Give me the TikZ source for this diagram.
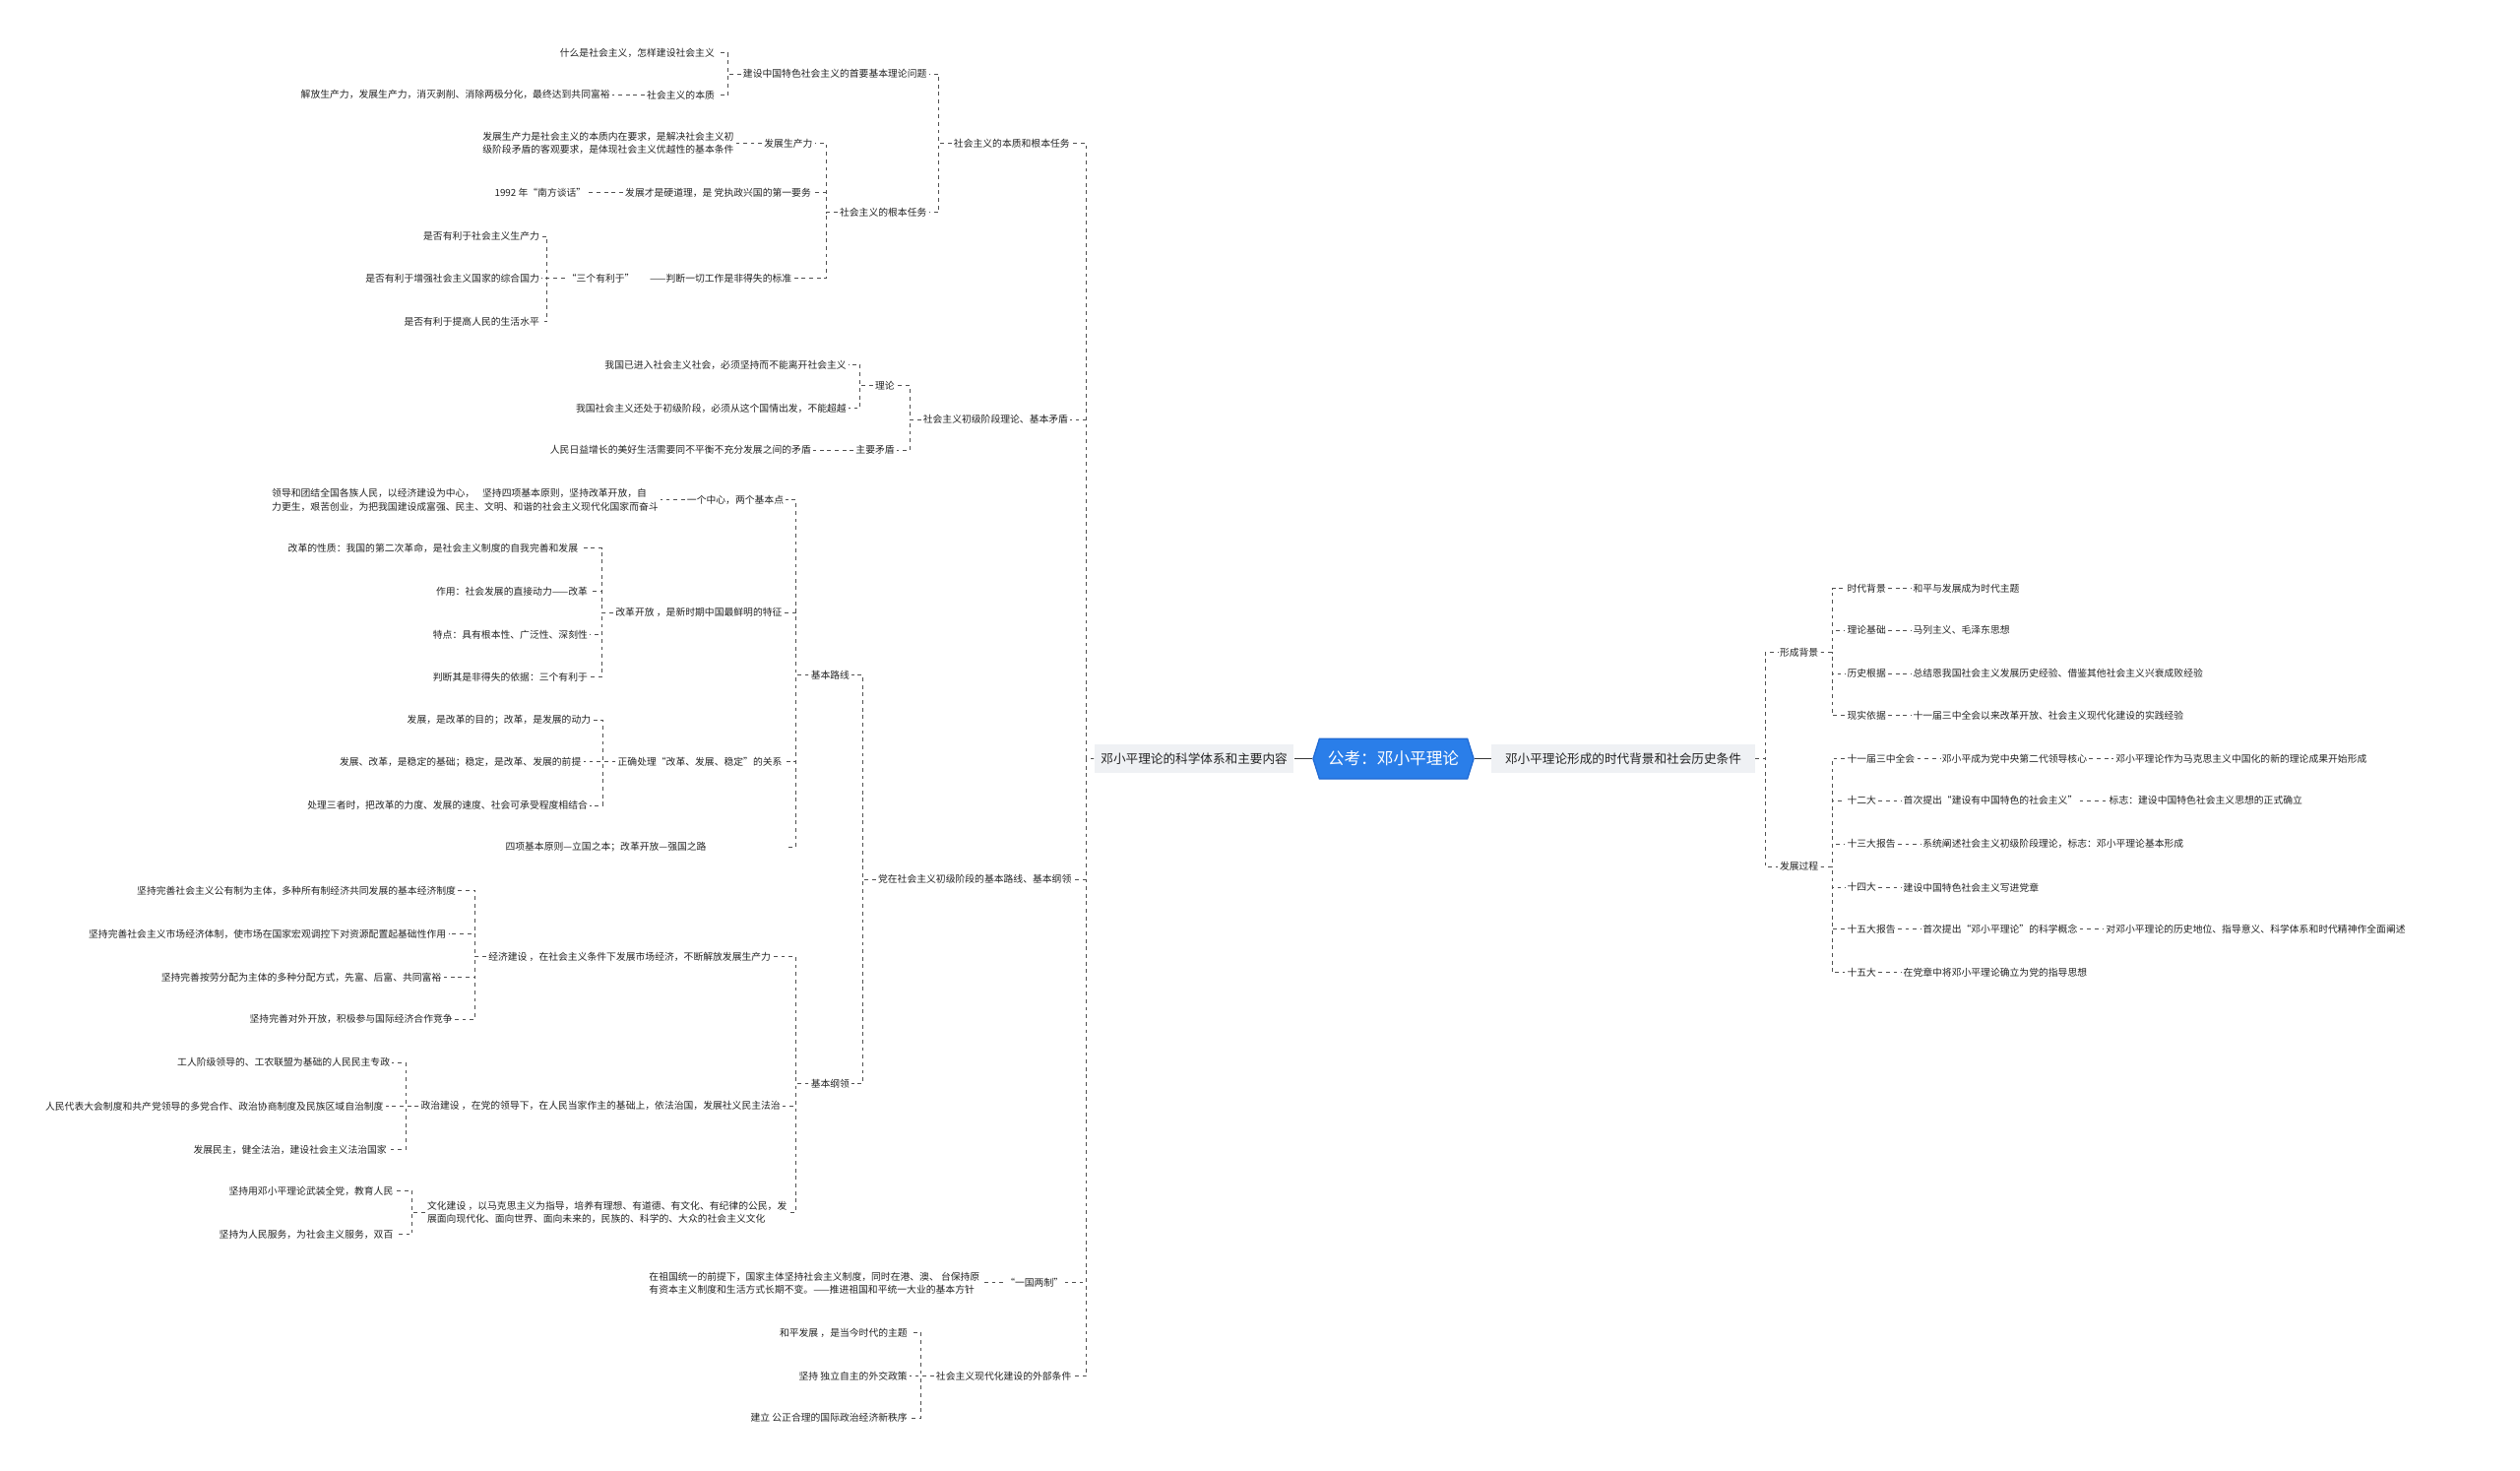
\documentclass[tikz,border=0pt]{standalone}
\usepackage{fontspec}
\setmainfont{Noto Sans CJK SC}
\usepackage{xcolor}
\usepackage{tikz}
\usetikzlibrary{shapes.symbols}
\definecolor{rootblue}{RGB}{42, 126, 233}
\definecolor{rootedge}{RGB}{30, 104, 210}
\definecolor{boxgray}{RGB}{239, 241, 244}
\definecolor{linkgray}{RGB}{80, 80, 80}
\definecolor{inkgray}{RGB}{35, 35, 35}

\begin{document}
\begin{tikzpicture}[x=0.03cm, y=-0.03cm,
    rootnode/.style={shape=signal, signal to=west and east, signal pointer angle=145, fill=rootblue, draw=rootedge, line width=0.6pt, text=white, minimum width=3cm, minimum height=0.75cm, inner sep=1pt, font=\fontsize{8.7}{10}\selectfont},
    topicnode/.style={fill=boxgray, minimum height=0.54cm, inner sep=1pt, text=inkgray, font=\fontsize{6.6}{8}\selectfont},
    leafnode/.style={inner sep=1pt, text=inkgray, font=\fontsize{5.13}{6.9}\selectfont},
    leafl/.style={leafnode, anchor=east},
    leafr/.style={leafnode, anchor=west},
    notenode/.style={leafl, align=left},
    link/.style={draw=linkgray, line width=0.45pt, dash pattern=on 2pt off 2pt},
    trunk/.style={draw=linkgray!70!black, line width=0.9pt}
]
    \useasboundingbox (0,0) rectangle (1568,915);

    % Root and the two main topics
    \node[rootnode] (root) at (867,472) {公考：邓小平理论};
    \node[topicnode, minimum width=3.72cm] (sys) at (743,472) {邓小平理论的科学体系和主要内容};
    \node[topicnode, minimum width=4.92cm] (cond) at (1010,472) {邓小平理论形成的时代背景和社会历史条件};
    \draw[trunk] (root.west) -- (sys.east);
    \draw[trunk] (root.east) -- (cond.west);

    % Essence and fundamental task
    \node[leafl] (essence) at (667,89) {社会主义的本质和根本任务};
    \node[leafl] (firstq) at (578,46) {建设中国特色社会主义的首要基本理论问题};
    \node[leafl] (whatsoc) at (446,33) {什么是社会主义，怎样建设社会主义};
    \node[leafl] (socess) at (446,59) {社会主义的本质};
    \node[leafl] (socessx) at (381,59) {解放生产力，发展生产力，消灭剥削、消除两极分化，最终达到共同富裕};
    \node[leafl] (task) at (578,132) {社会主义的根本任务};
    \node[leafl] (prod) at (507,89) {发展生产力};
    \node[notenode] (prodx) at (458,89) {发展生产力是社会主义的本质内在要求，是解决社会主义初\\级阶段矛盾的客观要求，是体现社会主义优越性的基本条件};
    \node[leafl] (hard) at (506,120) {发展才是硬道理，是 党执政兴国的第一要务};
    \node[leafl] (hardx) at (366,120) {1992 年“南方谈话”};
    \node[leafl] (three) at (494,173) {“三个有利于”\hspace{1.6em}——判断一切工作是非得失的标准};
    \node[leafl] (three1) at (337,147) {是否有利于社会主义生产力};
    \node[leafl] (three2) at (337,173) {是否有利于增强社会主义国家的综合国力};
    \node[leafl] (three3) at (337,200) {是否有利于提高人民的生活水平};

    % Primary stage
    \node[leafl] (stage) at (666,261) {社会主义初级阶段理论、基本矛盾};
    \node[leafl] (theory) at (558,240) {理论};
    \node[leafl] (theory1) at (528,227) {我国已进入社会主义社会，必须坚持而不能离开社会主义};
    \node[leafl] (theory2) at (528,254) {我国社会主义还处于初级阶段，必须从这个国情出发，不能超越};
    \node[leafl] (contra) at (558,280) {主要矛盾};
    \node[leafl] (contrax) at (506,280) {人民日益增长的美好生活需要同不平衡不充分发展之间的矛盾};

    % Basic line
    \node[leafl] (line) at (668,547) {党在社会主义初级阶段的基本路线、基本纲领};
    \node[leafl] (bline) at (530,420) {基本路线};
    \node[leafl] (center) at (489,311) {一个中心，两个基本点};
    \node[notenode] (centerx) at (411,311) {领导和团结全国各族人民，以经济建设为中心，\hspace{0.8em}坚持四项基本原则，坚持改革开放，自\\力更生，艰苦创业，为把我国建设成富强、民主、文明、和谐的社会主义现代化国家而奋斗};
    \node[leafl] (reform) at (488,381) {改革开放 ，是新时期中国最鲜明的特征};
    \node[leafl] (reform1) at (361,341) {改革的性质：我国的第二次革命，是社会主义制度的自我完善和发展};
    \node[leafl] (reform2) at (367,368) {作用：社会发展的直接动力——改革};
    \node[leafl] (reform3) at (367,395) {特点：具有根本性、广泛性、深刻性};
    \node[leafl] (reform4) at (367,421) {判断其是非得失的依据：三个有利于};
    \node[leafl] (relate) at (488,474) {正确处理“改革、发展、稳定”的关系};
    \node[leafl] (relate1) at (369,448) {发展，是改革的目的；改革，是发展的动力};
    \node[leafl] (relate2) at (363,474) {发展、改革，是稳定的基础；稳定，是改革、发展的前提};
    \node[leafl] (relate3) at (367,501) {处理三者时，把改革的力度、发展的速度、社会可承受程度相结合};
    \node[leafnode, minimum width=6.72cm] (princ) at (377,527) {四项基本原则—立国之本；改革开放—强国之路};

    % Basic program
    \node[leafl] (bprog) at (530,674) {基本纲领};
    \node[leafl] (econ) at (481,595) {经济建设 ，在社会主义条件下发展市场经济，不断解放发展生产力};
    \node[leafl] (econ1) at (285,554) {坚持完善社会主义公有制为主体，多种所有制经济共同发展的基本经济制度};
    \node[leafl] (econ2) at (279,581) {坚持完善社会主义市场经济体制，使市场在国家宏观调控下对资源配置起基础性作用};
    \node[leafl] (econ3) at (276,608) {坚持完善按劳分配为主体的多种分配方式，先富、后富、共同富裕};
    \node[leafl] (econ4) at (283,634) {坚持完善对外开放，积极参与国际经济合作竞争};
    \node[leafl] (polit) at (487,688) {政治建设 ，在党的领导下，在人民当家作主的基础上，依法治国，发展社义民主法治};
    \node[leafl] (polit1) at (244,661) {工人阶级领导的、工农联盟为基础的人民民主专政};
    \node[leafl] (polit2) at (240,688) {人民代表大会制度和共产党领导的多党合作、政治协商制度及民族区域自治制度};
    \node[leafl] (polit3) at (242,715) {发展民主，健全法治，建设社会主义法治国家};
    \node[notenode] (cult) at (491,754) {文化建设 ，以马克思主义为指导，培养有理想、有道德、有文化、有纪律的公民，发\\展面向现代化、面向世界、面向未来的，民族的、科学的、大众的社会主义文化};
    \node[leafl] (cult1) at (246,741) {坚持用邓小平理论武装全党，教育人民};
    \node[leafl] (cult2) at (246,768) {坚持为人民服务，为社会主义服务，双百};

    % One country, outer conditions
    \node[leafl] (octs) at (663,798) {“一国两制”};
    \node[notenode] (octsx) at (611,798) {在祖国统一的前提下，国家主体坚持社会主义制度，同时在港、澳、 台保持原\\有资本主义制度和生活方式长期不变。——推进祖国和平统一大业的基本方针};
    \node[leafl] (outer) at (668,856) {社会主义现代化建设的外部条件};
    \node[leafl] (outer1) at (566,829) {和平发展 ，是当今时代的主题};
    \node[leafl] (outer2) at (566,856) {坚持 独立自主的外交政策};
    \node[leafl] (outer3) at (566,882) {建立 公正合理的国际政治经济新秩序};

    % Right side: background
    \node[leafr] (formbg) at (1106,406) {形成背景};
    \node[leafr] (era) at (1148,366) {时代背景};
    \node[leafr] (erax) at (1189,366) {和平与发展成为时代主题};
    \node[leafr] (base) at (1148,392) {理论基础};
    \node[leafr] (basex) at (1189,392) {马列主义、毛泽东思想};
    \node[leafr] (hist) at (1148,419) {历史根据};
    \node[leafr] (histx) at (1189,419) {总结恩我国社会主义发展历史经验、借鉴其他社会主义兴衰成败经验};
    \node[leafr] (real) at (1148,445) {现实依据};
    \node[leafr] (realx) at (1189,445) {十一届三中全会以来改革开放、社会主义现代化建设的实践经验};

    % Right side: development
    \node[leafr] (devel) at (1106,539) {发展过程};
    \node[leafr] (plen) at (1148,472) {十一届三中全会};
    \node[leafr] (plenx) at (1207,472) {邓小平成为党中央第二代领导核心};
    \node[leafr] (pleny) at (1315,472) {邓小平理论作为马克思主义中国化的新的理论成果开始形成};
    \node[leafr] (c12) at (1148,498) {十二大};
    \node[leafr] (c12x) at (1183,498) {首次提出“建设有中国特色的社会主义”};
    \node[leafr] (c12y) at (1311,498) {标志：建设中国特色社会主义思想的正式确立};
    \node[leafr] (c13) at (1148,525) {十三大报告};
    \node[leafr] (c13x) at (1195,525) {系统阐述社会主义初级阶段理论，标志：邓小平理论基本形成};
    \node[leafr] (c14) at (1148,552) {十四大};
    \node[leafr] (c14x) at (1183,552) {建设中国特色社会主义写进党章};
    \node[leafr] (c15r) at (1148,578) {十五大报告};
    \node[leafr] (c15rx) at (1195,578) {首次提出“邓小平理论”的科学概念};
    \node[leafr] (c15ry) at (1309,578) {对邓小平理论的历史地位、指导意义、科学体系和时代精神作全面阐述};
    \node[leafr] (c15) at (1148,605) {十五大};
    \node[leafr] (c15x) at (1183,605) {在党章中将邓小平理论确立为党的指导思想};

    % Links, left side
    \foreach \kid in {essence, stage, line, octs, outer}
        \draw[link] (sys.west) -- ++(-5,0) |- (\kid.east);
    \foreach \kid in {firstq, task}
        \draw[link] (essence.west) -- ++(-8,0) |- (\kid.east);
    \foreach \kid in {whatsoc, socess}
        \draw[link] (firstq.west) -- ++(-8,0) |- (\kid.east);
    \draw[link] (socess.west) -- (socessx.east);
    \foreach \kid in {prod, hard, three}
        \draw[link] (task.west) -- ++(-7,0) |- (\kid.east);
    \draw[link] (prod.west) -- (prodx.east);
    \draw[link] (hard.west) -- (hardx.east);
    \foreach \kid in {three1, three2, three3}
        \draw[link] (three.west) -- ++(-11,0) |- (\kid.east);
    \foreach \kid in {theory, contra}
        \draw[link] (stage.west) -- ++(-7,0) |- (\kid.east);
    \foreach \kid in {theory1, theory2}
        \draw[link] (theory.west) -- ++(-8,0) |- (\kid.east);
    \draw[link] (contra.west) -- (contrax.east);
    \foreach \kid in {bline, bprog}
        \draw[link] (line.west) -- ++(-8,0) |- (\kid.east);
    \foreach \kid in {center, reform, relate, princ}
        \draw[link] (bline.west) -- ++(-8,0) |- (\kid.east);
    \draw[link] (center.west) -- (centerx.east);
    \foreach \kid in {reform1, reform2, reform3, reform4}
        \draw[link] (reform.west) -- ++(-7,0) |- (\kid.east);
    \foreach \kid in {relate1, relate2, relate3}
        \draw[link] (relate.west) -- ++(-8,0) |- (\kid.east);
    \foreach \kid in {econ, polit, cult}
        \draw[link] (bprog.west) -- ++(-8,0) |- (\kid.east);
    \foreach \kid in {econ1, econ2, econ3, econ4}
        \draw[link] (econ.west) -- ++(-7,0) |- (\kid.east);
    \foreach \kid in {polit1, polit2, polit3}
        \draw[link] (polit.west) -- ++(-8,0) |- (\kid.east);
    \foreach \kid in {cult1, cult2}
        \draw[link] (cult.west) -- ++(-8,0) |- (\kid.east);
    \draw[link] (octs.west) -- (octsx.east);
    \foreach \kid in {outer1, outer2, outer3}
        \draw[link] (outer.west) -- ++(-8,0) |- (\kid.east);

    % Links, right side
    \foreach \kid in {formbg, devel}
        \draw[link] (cond.east) -- ++(6,0) |- (\kid.west);
    \foreach \kid in {era, base, hist, real}
        \draw[link] (formbg.east) -- ++(7,0) |- (\kid.west);
    \foreach \kid in {plen, c12, c13, c14, c15r, c15}
        \draw[link] (devel.east) -- ++(7,0) |- (\kid.west);
    \foreach \a/\b in {era/erax, base/basex, hist/histx, real/realx, plen/plenx, plenx/pleny, c12/c12x, c12x/c12y, c13/c13x, c14/c14x, c15r/c15rx, c15rx/c15ry, c15/c15x}
        \draw[link] (\a.east) -- (\b.west);
\end{tikzpicture}
\end{document}
